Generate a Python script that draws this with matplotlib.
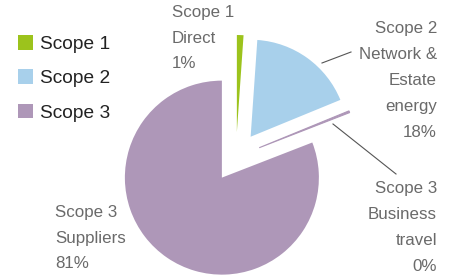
import matplotlib
matplotlib.use("Agg")
import matplotlib.pyplot as plt
from matplotlib.patches import Patch

# ---- data ----
categories = ["Scope 1 Direct", "Scope 2 Network & Estate energy",
              "Scope 3 Business travel", "Scope 3 Suppliers"]
values = [1.1, 17.7, 0.3, 80.9]
slice_labels = [["Scope 1", "Direct", "1%"],
                ["Scope 2", "Network &", "Estate", "energy", "18%"],
                ["Scope 3", "Business", "travel", "0%"],
                ["Scope 3", "Suppliers", "81%"]]
legend_labels = ["Scope 1", "Scope 2", "Scope 3"]
colors = ["#9cc31c", "#a8d0eb", "#ae97b8", "#ae97b8"]

W, H = 451, 279
fig = plt.figure(figsize=(W / 100, H / 100), dpi=100)
ax = fig.add_axes([0, 0, 1, 1])

wedges, _ = ax.pie(values, colors=colors, startangle=90, counterclock=False,
                   explode=[25] * 4, radius=97, center=(236, H - 157))
wedges[2].set_edgecolor(colors[2])
wedges[2].set_linewidth(0.8)
ax.set_xlim(0, W)
ax.set_ylim(0, H)
ax.set_aspect("auto")
ax.axis("off")

font = "Liberation Sans"
tc = "#6a6a6a"
# label positions (x, first-line y, alignment, line pitch)
pos = [(172, 13, "left", 25.5),
       (437, 28, "right", 26.2),
       (437, 188, "right", 26.3),
       (55, 212, "left", 26)]
for lines, (x, y0, ha, pitch) in zip(slice_labels, pos):
    for i, t in enumerate(lines):
        ax.text(x, H - (y0 + i * pitch), t, ha=ha, va="center",
                fontsize=12.2, color=tc, family=font)

# leader lines
ax.plot([322, 351], [H - 63, H - 52], color="#555555", lw=0.8)
ax.plot([333, 396], [H - 124, H - 174], color="#555555", lw=0.8)

handles = [Patch(facecolor=c, edgecolor="none") for c in colors[:3]]
leg = ax.legend(handles, legend_labels, loc="upper left",
                bbox_to_anchor=(18, H - 35), bbox_transform=ax.transData,
                frameon=False, handlelength=0.8,
                handleheight=0.8, handletextpad=0.33, labelspacing=0.85,
                borderpad=0, borderaxespad=0,
                prop={"family": font, "size": 13.8})
for t in leg.get_texts():
    t.set_color("#222222")

fig.savefig("out.png", dpi=100)
